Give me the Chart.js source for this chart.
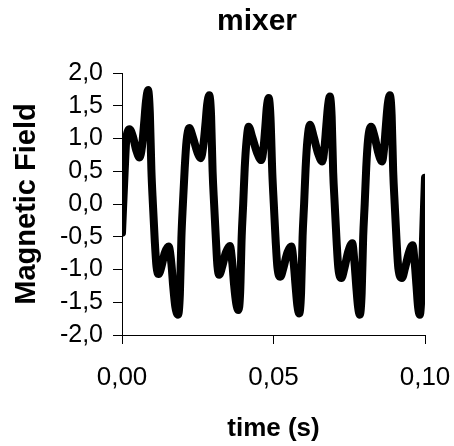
<!DOCTYPE html>
<html>
<head>
<meta charset="utf-8">
<script src="https://cdn.jsdelivr.net/npm/chart.js@4/dist/chart.umd.min.js"></script>
<style>
html, body { margin: 0; padding: 0; background: #ffffff; }
#wrap { width: 454px; height: 446px; }
</style>
</head>
<body>
<div id="wrap"><canvas id="c" width="454" height="446"></canvas></div>
<script>
const chartTitle = 'mixer';
const xAxisTitle = 'time (s)';
const yAxisTitle = 'Magnetic Field';
const xTickValues = [0, 0.05, 0.10];
const yTickValues = [-2.0, -1.5, -1.0, -0.5, 0.0, 0.5, 1.0, 1.5, 2.0];

const times = [
  0.0000, 0.0009, 0.0014, 0.0020, 0.0025, 0.0036, 0.0047, 0.0058, 0.0066, 0.0073,
  0.0079, 0.0086, 0.0092, 0.0097, 0.0102, 0.0108, 0.0114, 0.0121, 0.0130, 0.0141,
  0.0154, 0.0163, 0.0169, 0.0176, 0.0185, 0.0191, 0.0196, 0.0201, 0.0207, 0.0213,
  0.0222, 0.0234, 0.0248, 0.0260, 0.0268, 0.0275, 0.0281, 0.0288, 0.0294, 0.0299,
  0.0304, 0.0310, 0.0315, 0.0321, 0.0331, 0.0343, 0.0356, 0.0364, 0.0370, 0.0377,
  0.0384, 0.0390, 0.0395, 0.0400, 0.0405, 0.0411, 0.0418, 0.0430, 0.0446, 0.0460,
  0.0467, 0.0473, 0.0478, 0.0484, 0.0490, 0.0496, 0.0501, 0.0507, 0.0513, 0.0523,
  0.0533, 0.0546, 0.0559, 0.0567, 0.0573, 0.0579, 0.0585, 0.0591, 0.0596, 0.0601,
  0.0606, 0.0612, 0.0620, 0.0633, 0.0648, 0.0661, 0.0668, 0.0674, 0.0680, 0.0686,
  0.0692, 0.0697, 0.0702, 0.0708, 0.0714, 0.0724, 0.0734, 0.0747, 0.0760, 0.0767,
  0.0773, 0.0779, 0.0785, 0.0791, 0.0796, 0.0801, 0.0806, 0.0812, 0.0822, 0.0834,
  0.0846, 0.0858, 0.0865, 0.0871, 0.0877, 0.0884, 0.0890, 0.0895, 0.0900, 0.0906,
  0.0912, 0.0924, 0.0934, 0.0947, 0.0959, 0.0966, 0.0972, 0.0977, 0.0983, 0.0989,
  0.0993, 0.0997, 0.1000
];

const field = [
  -0.44, 0.52, 0.98, 1.12, 1.14, 1.03, 0.82, 0.71, 0.88, 1.23,
  1.56, 1.74, 1.38, 0.52, 0.00, -0.55, -0.96, -1.07, -0.96, -0.75,
  -0.65, -0.91, -1.26, -1.57, -1.69, -1.38, -0.52, 0.00, 0.55, 0.96,
  1.16, 1.02, 0.80, 0.70, 0.88, 1.20, 1.52, 1.66, 1.35, 0.50,
  0.00, -0.55, -0.95, -1.08, -0.95, -0.74, -0.64, -0.90, -1.24, -1.52,
  -1.62, -1.35, -0.50, 0.00, 0.55, 0.96, 1.18, 1.02, 0.78, 0.67,
  0.85, 1.18, 1.48, 1.62, 1.33, 0.48, 0.00, -0.55, -0.97, -1.11,
  -0.97, -0.74, -0.65, -0.92, -1.26, -1.56, -1.67, -1.36, -0.50, 0.00,
  0.55, 0.98, 1.21, 1.02, 0.76, 0.65, 0.85, 1.18, 1.50, 1.64,
  1.33, 0.48, 0.00, -0.55, -0.98, -1.13, -0.98, -0.72, -0.60, -0.88,
  -1.25, -1.57, -1.69, -1.36, -0.50, 0.00, 0.55, 0.98, 1.18, 1.02,
  0.78, 0.65, 0.85, 1.20, 1.52, 1.66, 1.35, 0.50, 0.00, -0.55,
  -0.98, -1.13, -0.98, -0.74, -0.63, -0.90, -1.26, -1.57, -1.69, -1.30,
  -0.60, 0.00, 0.40
];

const FONT = "'Liberation Sans', Arial, Helvetica, sans-serif";
const fmt = (v, d) => Number(v).toFixed(d).replace('.', ',');

const points = times.map((t, i) => ({ x: t, y: field[i] }));

new Chart(document.getElementById('c'), {
  type: 'line',
  data: {
    datasets: [{
      label: yAxisTitle,
      data: points,
      borderColor: '#000000',
      backgroundColor: '#000000',
      borderWidth: 8,
      pointRadius: 0,
      pointHoverRadius: 0,
      fill: false,
      cubicInterpolationMode: 'monotone',
      borderJoinStyle: 'round',
      borderCapStyle: 'round'
    }]
  },
  options: {
    responsive: false,
    animation: false,
    devicePixelRatio: 1,
    layout: { padding: { left: 0, right: -60, top: 0, bottom: 0 } },
    plugins: {
      legend: { display: false },
      tooltip: { enabled: false },
      title: {
        display: true,
        text: chartTitle,
        color: '#000000',
        font: { family: FONT, size: 30, weight: 'bold' },
        padding: { top: 4, bottom: 33 }
      }
    },
    scales: {
      x: {
        type: 'linear',
        min: 0,
        max: 0.1,
        afterBuildTicks: s => { s.ticks = xTickValues.map(v => ({ value: v })); },
        afterFit: s => { s.height = 111; },
        grid: { display: true, drawOnChartArea: false, drawTicks: true, tickLength: 9, color: '#000000', lineWidth: 1 },
        border: { display: true, color: '#000000', width: 1 },
        ticks: {
          color: '#000000',
          font: { family: FONT, size: 26, lineHeight: 2.4 },
          padding: 3,
          maxRotation: 0,
          autoSkip: false,
          callback: v => fmt(v, 2)
        },
        title: {
          display: true,
          text: xAxisTitle,
          color: '#000000',
          font: { family: FONT, size: 26, weight: 'bold' },
          padding: { top: 0, bottom: 2 }
        }
      },
      y: {
        type: 'linear',
        position: 'left',
        min: -2,
        max: 2,
        afterBuildTicks: s => { s.ticks = yTickValues.map(v => ({ value: v })); },
        afterFit: s => { s.width = 122; },
        grid: { display: true, drawOnChartArea: false, drawTicks: true, tickLength: 9, color: '#000000', lineWidth: 1 },
        border: { display: true, color: '#000000', width: 1 },
        ticks: {
          color: '#000000',
          font: { family: FONT, size: 25 },
          padding: 10,
          autoSkip: false,
          callback: v => fmt(v, 1)
        },
        title: {
          display: true,
          text: yAxisTitle,
          color: '#000000',
          font: { family: FONT, size: 29, weight: 'bold' },
          padding: { top: 10, bottom: 0 }
        }
      },
      ySpace: {
        type: 'linear',
        position: 'right',
        display: true,
        min: -2,
        max: 2,
        afterFit: s => { s.width = 89; },
        grid: { display: false },
        border: { display: false },
        ticks: { display: false },
        title: { display: false }
      }
    }
  }
});
</script>
</body>
</html>
